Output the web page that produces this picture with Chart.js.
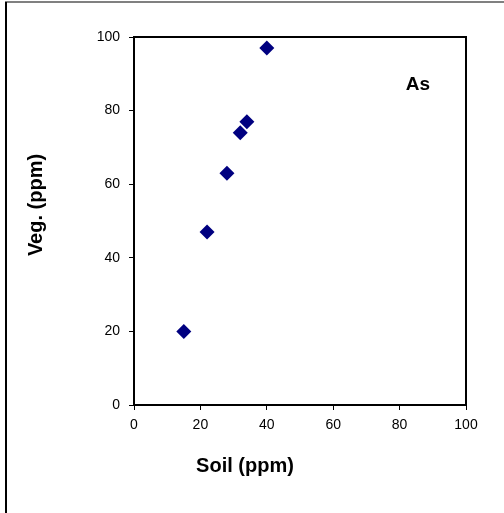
<!DOCTYPE html>
<html><head><meta charset="utf-8">
<script src="https://cdn.jsdelivr.net/npm/chart.js@4.4.0/dist/chart.umd.min.js"></script>
<style>html,body{margin:0;padding:0;background:#fff;overflow:hidden}#wrap{width:504px;height:513px;position:relative}</style>
</head><body><div id="wrap"><canvas id="c" width="504" height="513"></canvas></div>
<script>
const soil = [15, 22, 28, 32, 34, 40];
const veg = [20, 47, 63, 74, 77, 97];
const xTicks = [0, 20, 40, 60, 80, 100];
const yTicks = [0, 20, 40, 60, 80, 100];
const xTitle = 'Soil (ppm)';
const yTitle = 'Veg. (ppm)';
const label = 'As';

const pts = soil.map((s, i) => ({x: s, y: veg[i]}));
const font = {family: 'Liberation Sans, Arial, sans-serif', size: 14};

const deco = {
  id: 'deco',
  beforeDraw(chart) {
    const ctx = chart.ctx;
    ctx.save();
    ctx.fillStyle = '#fff';
    ctx.fillRect(0, 0, chart.width, chart.height);
    ctx.fillStyle = '#808080';
    ctx.fillRect(5, 1, 499, 2);
    ctx.fillStyle = '#000';
    ctx.fillRect(5, 2, 2, 511);
    ctx.restore();
  },
  afterDraw(chart) {
    const ctx = chart.ctx, a = chart.chartArea;
    ctx.save();
    ctx.strokeStyle = '#000';
    ctx.lineWidth = 2;
    ctx.strokeRect(a.left, a.top, a.right - a.left, a.bottom - a.top);
    ctx.fillStyle = '#000';
    ctx.font = 'bold 19px Liberation Sans, Arial, sans-serif';
    ctx.textAlign = 'center';
    ctx.textBaseline = 'middle';
    ctx.fillText(label, chart.scales.x.getPixelForValue(85.5), chart.scales.y.getPixelForValue(87));
    ctx.font = 'bold 20px Liberation Sans, Arial, sans-serif';
    ctx.fillText(xTitle, 245, 466);
    ctx.translate(36, 205);
    ctx.rotate(-Math.PI / 2);
    ctx.fillText(yTitle, 0, 0);
    ctx.restore();
  }
};

new Chart(document.getElementById('c'), {
  type: 'scatter',
  data: {datasets: [{
    data: pts,
    pointStyle: 'rectRot',
    pointRadius: 7.5,
    pointHoverRadius: 7.5,
    backgroundColor: '#000080',
    borderColor: '#000080',
    borderWidth: 0
  }]},
  options: {
    responsive: false,
    animation: false,
    events: [],
    layout: {padding: {left: 0, top: 37, right: 38, bottom: 0}},
    plugins: {legend: {display: false}, tooltip: {enabled: false}},
    scales: {
      x: {
        type: 'linear', min: 0, max: 100,
        afterFit(s) { s.height = 108; },
        afterBuildTicks(s) { s.ticks = xTicks.map(v => ({value: v})); },
        grid: {display: true, drawOnChartArea: false, drawTicks: true, tickLength: 5, color: '#000', lineWidth: 1},
        border: {display: true, color: '#000', width: 2},
        ticks: {color: '#000', font: font, padding: 7, maxRotation: 0}
      },
      y: {
        type: 'linear', min: 0, max: 100,
        afterFit(s) { s.width = 134; },
        afterBuildTicks(s) { s.ticks = yTicks.map(v => ({value: v})); },
        grid: {display: true, drawOnChartArea: false, drawTicks: true, tickLength: 5, color: '#000', lineWidth: 1},
        border: {display: true, color: '#000', width: 2},
        ticks: {color: '#000', font: font, padding: 9}
      }
    }
  },
  plugins: [deco]
});
</script></body></html>
